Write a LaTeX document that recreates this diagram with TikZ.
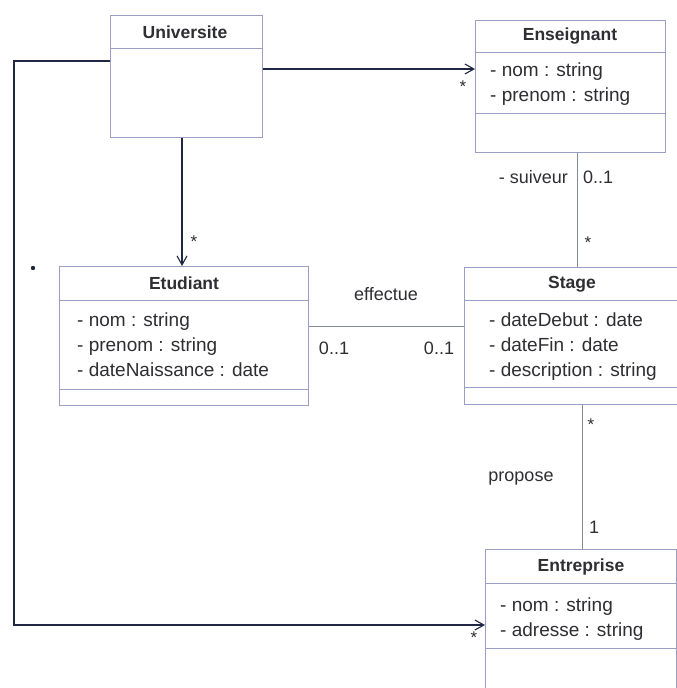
\documentclass[tikz,border=0pt]{standalone}
\usepackage{fontspec}
\setmainfont{Liberation Sans}
\usetikzlibrary{arrows.meta}
\definecolor{boxline}{HTML}{9A9EC2}
\definecolor{txt}{HTML}{2E2E33}
\definecolor{strong}{HTML}{1F2742}
\definecolor{soft}{HTML}{858A99}
\tikzset{
  cls/.style={draw=boxline, line width=0.9pt, fill=white, inner sep=0pt, anchor=north west},
  sepline/.style={draw=boxline, line width=0.9pt},
  ttl/.style={text=txt, font=\bfseries\fontsize{17.5}{20}\selectfont, inner sep=0pt},
  attr/.style={text=txt, font=\fontsize{19}{22}\selectfont, inner sep=0pt, anchor=base west},
  lbl/.style={text=txt, font=\fontsize{18}{21}\selectfont, inner sep=0pt},
  mult/.style={text=txt, font=\fontsize{17}{20}\selectfont, inner sep=0pt},
  navig/.style={draw=strong, line width=1.3pt, -{Straight Barb[length=9pt,width=10pt,line width=1.1pt]}},
  assoc/.style={draw=soft, line width=1pt},
}
\begin{document}
\begin{tikzpicture}[x=1pt,y=-1pt]
\clip (0,0) rectangle (677,688);
\fill[white] (0,0) rectangle (677,688);

% classes
\node[cls, minimum width=152pt, minimum height=122pt] (univ) at (110,15) {};
\draw[sepline] (110,48) -- (262,48);
\node[ttl] (univT) at (185,32) {Universite};

\node[cls, minimum width=190pt, minimum height=132pt] (ens) at (475,20) {};
\draw[sepline] (475,52) -- (665,52);
\draw[sepline] (475,113) -- (665,113);
\node[ttl] (ensT) at (570,36) {Enseignant};
\node[attr] (ensA1) at (490,76) {- nom : string};
\node[attr] (ensA2) at (490,101) {- prenom : string};

\node[cls, minimum width=249pt, minimum height=139pt] (etu) at (59,266) {};
\draw[sepline] (59,300) -- (308,300);
\draw[sepline] (59,389) -- (308,389);
\node[ttl] (etuT) at (184,283) {Etudiant};
\node[attr] (etuA1) at (77,326) {- nom : string};
\node[attr] (etuA2) at (77,351) {- prenom : string};
\node[attr] (etuA3) at (77,376) {- dateNaissance : date};

\node[cls, minimum width=216pt, minimum height=137pt] (stage) at (464,267) {};
\draw[sepline] (464,300) -- (680,300);
\draw[sepline] (464,387) -- (680,387);
\node[ttl] (stageT) at (572,284) {Stage};
\node[attr] (stA1) at (489,326) {- dateDebut : date};
\node[attr] (stA2) at (489,351) {- dateFin : date};
\node[attr] (stA3) at (489,376) {- description : string};

\node[cls, minimum width=191pt, minimum height=150pt] (ent) at (485,549) {};
\draw[sepline] (485,583) -- (676,583);
\draw[sepline] (485,648) -- (676,648);
\node[ttl] (entT) at (581,567) {Entreprise};
\node[attr] (entA1) at (500,611) {- nom : string};
\node[attr] (entA2) at (500,636) {- adresse : string};

% Universite -> Enseignant
\coordinate (p1) at ([yshift=-54pt]univ.north east);
\draw[navig] (p1) -- (p1 -| ens.west);
\node[mult] (m1) at (463,87) {*};

% Universite -> Etudiant
\coordinate (p2) at ([xshift=72pt]univ.north west);
\draw[navig] (p2 |- univ.south) -- (p2 |- etu.north);
\node[mult] (m2) at (194,242) {*};

% Universite -> Entreprise
\coordinate (p3) at ([yshift=-46pt]univ.north west);
\coordinate (p3b) at (14,625);
\draw[navig] (p3) -- (p3 -| p3b) -- (p3b) -- (p3b -| ent.west);
\node[mult] (m3) at (474,638) {*};

% Enseignant - Stage
\coordinate (p4) at (577,0);
\draw[assoc] (p4 |- ens.south) -- (p4 |- stage.north);
\node[lbl, anchor=east] (l4a) at (568,177) {- suiveur};
\node[lbl, anchor=west] (l4b) at (583,177) {0..1};
\node[mult] (m4) at (588,243) {*};

% Etudiant - Stage
\coordinate (p5) at (0,326);
\draw[assoc] (p5 -| etu.east) -- (p5 -| stage.west);
\node[lbl] (l5) at (386,294) {effectue};
\node[lbl] (l5a) at (334,348) {0..1};
\node[lbl] (l5b) at (439,348) {0..1};

% Stage - Entreprise
\coordinate (p6) at (582,0);
\draw[assoc] (p6 |- stage.south) -- (p6 |- ent.north);
\node[mult] (m6) at (591,425) {*};
\node[lbl] (l6) at (521,479) {propose};
\node[lbl] (l6b) at (594,527) {1};

% stray dot
\fill[strong] (33,268) circle (2.2pt);
\end{tikzpicture}
\end{document}
